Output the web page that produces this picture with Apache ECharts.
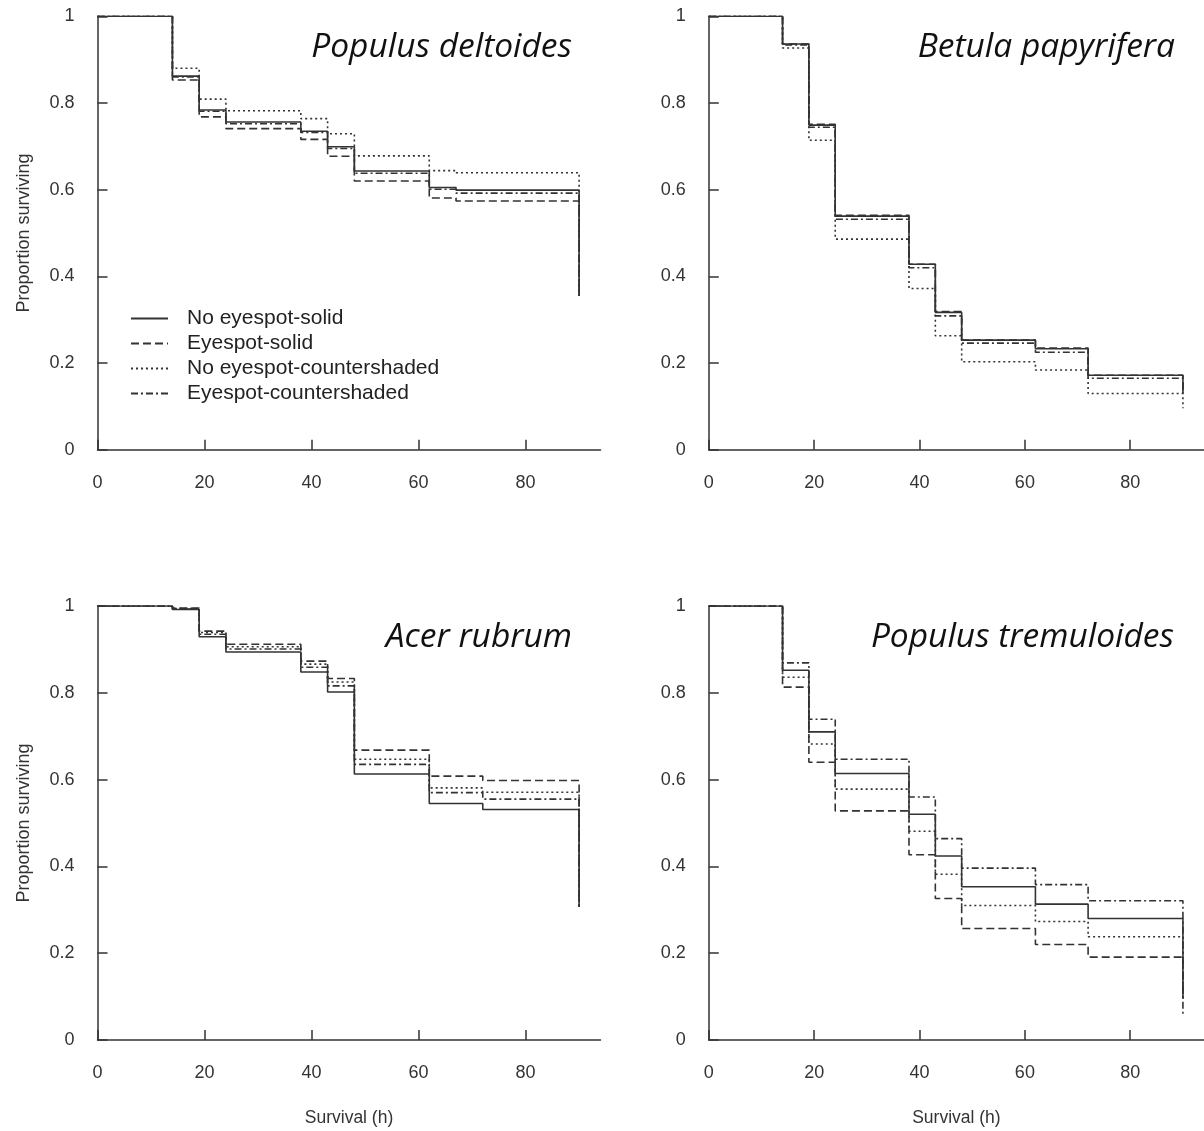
<!DOCTYPE html>
<html>
<head>
<meta charset="utf-8">
<script src="https://cdn.jsdelivr.net/npm/echarts@6/dist/echarts.min.js"></script>
<style>
html,body{margin:0;padding:0;background:#fff;}
#chart{width:1204px;height:1131px;}
</style>
</head>
<body>
<div id="chart"></div>
<script>
// ---- Data ----
const groupNames = ['No eyespot-solid', 'Eyespot-solid', 'No eyespot-countershaded', 'Eyespot-countershaded'];
const panelTitles = ['Populus deltoides', 'Betula papyrifera', 'Acer rubrum', 'Populus tremuloides'];
const xTicks = [0, 20, 40, 60, 80];

const timesDeltoides = [0, 14, 19, 24, 38, 43, 48, 62, 67, 90];
const timesOther = [0, 14, 19, 24, 38, 43, 48, 62, 72, 90];

// Populus deltoides
const deltoidesNoEyeSolid   = [1, 0.862, 0.784, 0.756, 0.735, 0.699, 0.643, 0.605, 0.599, 0.355];
const deltoidesEyeSolid     = [1, 0.853, 0.768, 0.741, 0.716, 0.677, 0.620, 0.581, 0.574, 0.355];
const deltoidesNoEyeCounter = [1, 0.880, 0.809, 0.782, 0.764, 0.729, 0.678, 0.644, 0.639, 0.355];
const deltoidesEyeCounter   = [1, 0.860, 0.781, 0.752, 0.732, 0.695, 0.638, 0.601, 0.592, 0.355];

// Betula papyrifera
const betulaNoEyeSolid   = [1, 0.936, 0.749, 0.539, 0.428, 0.317, 0.253, 0.233, 0.172, 0.130];
const betulaEyeSolid     = [1, 0.936, 0.751, 0.541, 0.428, 0.319, 0.253, 0.235, 0.172, 0.130];
const betulaNoEyeCounter = [1, 0.927, 0.714, 0.486, 0.372, 0.263, 0.203, 0.184, 0.130, 0.096];
const betulaEyeCounter   = [1, 0.934, 0.744, 0.532, 0.420, 0.309, 0.246, 0.225, 0.165, 0.130];

// Acer rubrum
const acerNoEyeSolid   = [1, 0.992, 0.929, 0.894, 0.848, 0.802, 0.613, 0.545, 0.531, 0.307];
const acerEyeSolid     = [1, 0.995, 0.942, 0.912, 0.873, 0.833, 0.668, 0.608, 0.598, 0.307];
const acerNoEyeCounter = [1, 0.994, 0.939, 0.906, 0.866, 0.825, 0.647, 0.581, 0.571, 0.307];
const acerEyeCounter   = [1, 0.993, 0.935, 0.901, 0.859, 0.816, 0.635, 0.570, 0.555, 0.307];

// Populus tremuloides
const tremNoEyeSolid   = [1, 0.852, 0.710, 0.614, 0.520, 0.424, 0.353, 0.313, 0.280, 0.096];
const tremEyeSolid     = [1, 0.813, 0.640, 0.528, 0.427, 0.326, 0.257, 0.220, 0.191, 0.096];
const tremNoEyeCounter = [1, 0.836, 0.682, 0.578, 0.481, 0.382, 0.310, 0.273, 0.238, 0.096];
const tremEyeCounter   = [1, 0.869, 0.739, 0.647, 0.560, 0.464, 0.396, 0.358, 0.321, 0.054];

// ---- Build ----
const panels = [
  { times: timesDeltoides, vals: [deltoidesNoEyeSolid, deltoidesEyeSolid, deltoidesNoEyeCounter, deltoidesEyeCounter] },
  { times: timesOther, vals: [betulaNoEyeSolid, betulaEyeSolid, betulaNoEyeCounter, betulaEyeCounter] },
  { times: timesOther, vals: [acerNoEyeSolid, acerEyeSolid, acerNoEyeCounter, acerEyeCounter] },
  { times: timesOther, vals: [tremNoEyeSolid, tremEyeSolid, tremNoEyeCounter, tremEyeCounter] }
];

const ink = '#333';
const lineTypes = ['solid', [8, 4], [2, 3], [7, 3, 2, 3]];
const drawOrder = [1, 2, 3, 0];

const grids = [
  { left: 97.5, top: 16.3, width: 503, height: 433.5 },
  { left: 708.8, top: 16.3, width: 503, height: 433.5 },
  { left: 97.5, top: 606, width: 503, height: 434 },
  { left: 708.8, top: 606, width: 503, height: 434 }
];

const xAxes = grids.map((g, i) => ({
  type: 'value', gridIndex: i, min: 0, max: 94,
  name: i >= 2 ? 'Survival (h)' : '', nameLocation: 'middle', nameGap: 69,
  nameTextStyle: { fontFamily: 'Liberation Sans', fontSize: 17.5, color: ink },
  axisLine: { show: true, lineStyle: { color: ink, width: 1.5 } },
  axisTick: { show: true, inside: true, length: 10, customValues: xTicks, lineStyle: { color: ink, width: 1.5 } },
  axisLabel: { show: true, margin: 24, customValues: xTicks, fontFamily: 'Liberation Sans', fontSize: 18, color: ink },
  splitLine: { show: false }
}));

const yAxes = grids.map((g, i) => ({
  type: 'value', gridIndex: i, min: 0, max: 1, interval: 0.2,
  name: (i % 2 === 0) ? 'Proportion surviving' : '', nameLocation: 'middle', nameGap: 64,
  nameTextStyle: { fontFamily: 'Liberation Sans', fontSize: 18, color: ink },
  axisLine: { show: true, lineStyle: { color: ink, width: 1.5 } },
  axisTick: { show: true, inside: true, length: 10, lineStyle: { color: ink, width: 1.5 } },
  axisLabel: { show: true, margin: 23, fontFamily: 'Liberation Sans', fontSize: 18, color: ink },
  splitLine: { show: false }
}));

const series = [];
panels.forEach((p, pi) => {
  drawOrder.forEach(gi => {
    series.push({
      type: 'line',
      name: groupNames[gi],
      xAxisIndex: pi, yAxisIndex: pi,
      step: 'end',
      symbol: 'none',
      z: gi === 0 ? 3 : 2,
      lineStyle: { color: ink, width: 1.6, type: lineTypes[gi] },
      itemStyle: { color: ink },
      data: p.times.map((t, k) => [t, p.vals[gi][k]])
    });
  });
});

const titleAnchors = [[572, 47], [1175, 47], [572, 637], [1174, 637]];
const graphic = panelTitles.map((t, i) => ({
  type: 'text',
  x: titleAnchors[i][0], y: titleAnchors[i][1],
  style: { text: t, font: 'italic 33.5px "Open Sans"', fill: '#111', textAlign: 'right', textVerticalAlign: 'middle' }
}));

const option = {
  animation: false,
  backgroundColor: '#fff',
  grid: grids,
  xAxis: xAxes,
  yAxis: yAxes,
  legend: {
    data: groupNames,
    orient: 'vertical',
    left: 125, top: 303,
    itemWidth: 37, itemHeight: 14, itemGap: 4,
    itemStyle: { color: 'rgba(0,0,0,0)', borderColor: 'rgba(0,0,0,0)', borderWidth: 0, opacity: 0 },
    textStyle: { fontFamily: 'Liberation Sans', fontSize: 21, color: '#222', padding: [0, 0, 0, 14] },
    selectedMode: false
  },
  graphic: graphic,
  series: series
};

const chart = echarts.init(document.getElementById('chart'), null, { renderer: 'canvas' });
chart.setOption(option);
</script>
</body>
</html>
